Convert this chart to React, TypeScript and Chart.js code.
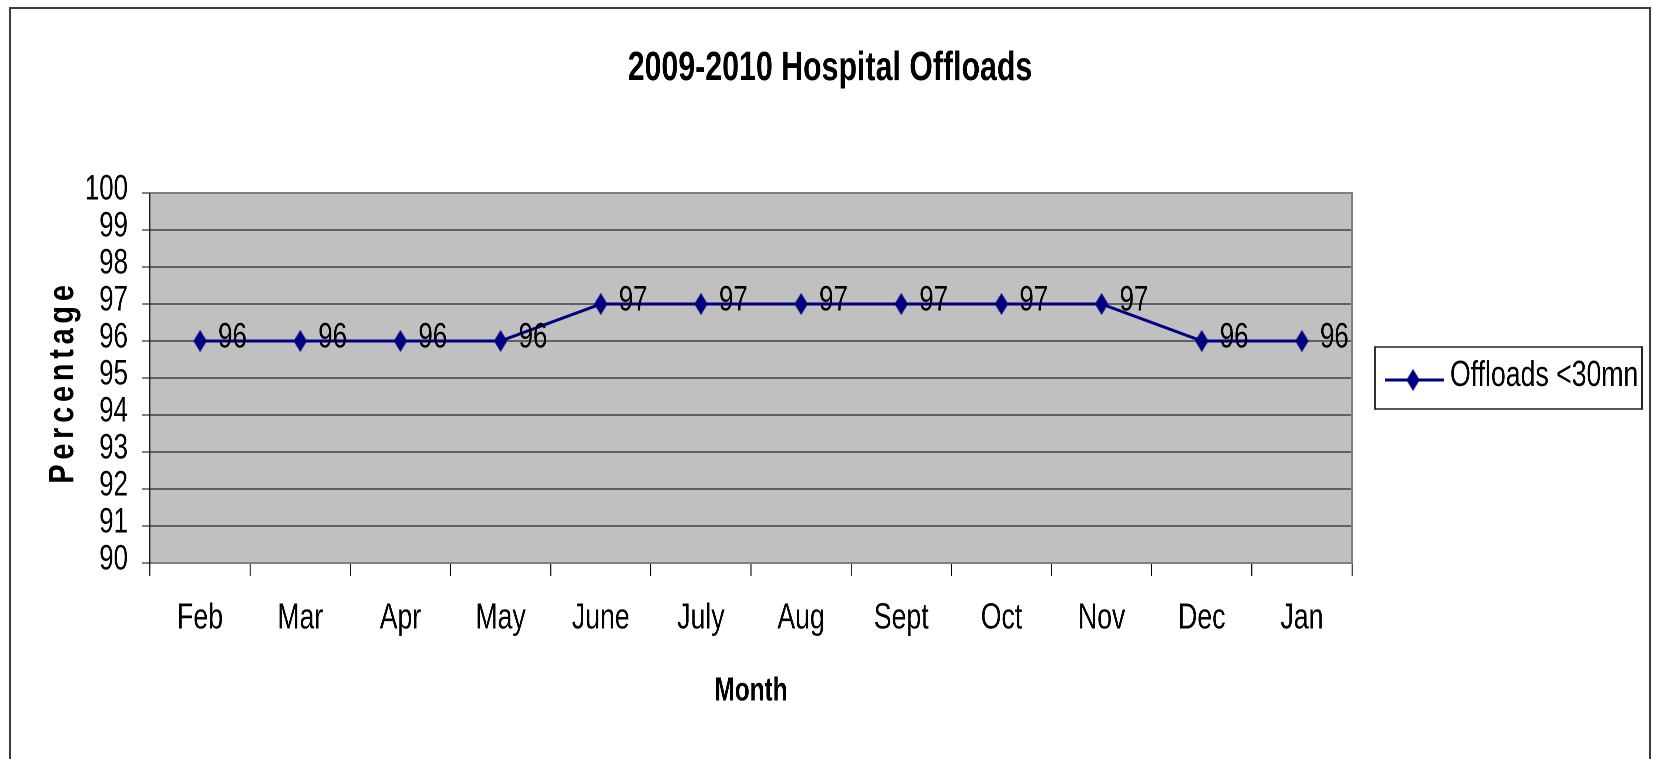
import React, { useEffect, useRef } from 'react';
import { Chart, registerables } from 'chart.js';

Chart.register(...registerables);

const TITLE = '2009-2010 Hospital Offloads';
const X_TITLE = 'Month';
const Y_TITLE = 'Percentage';
const SERIES_LABEL = 'Offloads <30mn';
const MONTHS = ['Feb', 'Mar', 'Apr', 'May', 'June', 'July', 'Aug', 'Sept', 'Oct', 'Nov', 'Dec', 'Jan'];
const OFFLOADS = [96, 96, 96, 96, 97, 97, 97, 97, 97, 97, 96, 96];
const Y_MIN = 90;
const Y_MAX = 100;
const Y_STEP = 1;

const FONT = "'Liberation Sans', Arial, sans-serif";
const NAVY = '#000080';
const PLOT_BG = '#C0C0C0';
const PLOT_EDGE = '#808080';

// the chart is drawn on a wider logical canvas and shown condensed horizontally
const SHOW_W = 1638;
const H = 750;
const LOGICAL_W = 2214;
const K = SHOW_W / LOGICAL_W;

function makeDiamond(): HTMLCanvasElement {
  const c = document.createElement('canvas');
  c.width = 18;
  c.height = 22;
  const g = c.getContext('2d')!;
  g.fillStyle = NAVY;
  g.beginPath();
  g.moveTo(9, 0);
  g.lineTo(18, 11);
  g.lineTo(9, 22);
  g.lineTo(0, 11);
  g.closePath();
  g.fill();
  return c;
}

export default function App() {
  const ref = useRef<HTMLCanvasElement | null>(null);

  useEffect(() => {
    const canvas = ref.current;
    if (!canvas) return;
    const diamond = makeDiamond();

    const plotBg = {
      id: 'plotBg',
      beforeDraw(chart: any) {
        const { ctx, chartArea: a } = chart;
        ctx.save();
        ctx.fillStyle = PLOT_BG;
        ctx.fillRect(a.left, a.top, a.right - a.left, a.bottom - a.top);
        ctx.restore();
      },
      beforeDatasetsDraw(chart: any) {
        const { ctx, chartArea: a } = chart;
        ctx.save();
        ctx.strokeStyle = PLOT_EDGE;
        ctx.lineWidth = 2;
        ctx.beginPath();
        ctx.moveTo(a.left, a.top);
        ctx.lineTo(a.right, a.top);
        ctx.stroke();
        ctx.lineWidth = 2 / K;
        ctx.beginPath();
        ctx.moveTo(a.right, a.top - 1);
        ctx.lineTo(a.right, a.bottom + 1);
        ctx.stroke();
        ctx.restore();
      },
    };

    const mainTitle = {
      id: 'mainTitle',
      afterDraw(chart: any) {
        const { ctx } = chart;
        ctx.save();
        ctx.fillStyle = '#000';
        ctx.font = `bold 41px ${FONT}`;
        ctx.textAlign = 'center';
        ctx.textBaseline = 'alphabetic';
        ctx.fillText(TITLE, chart.width / 2, 71);
        ctx.restore();
      },
    };

    const dataLabels = {
      id: 'dataLabels',
      afterDatasetsDraw(chart: any) {
        const { ctx } = chart;
        const meta = chart.getDatasetMeta(0);
        ctx.save();
        ctx.fillStyle = '#000';
        ctx.font = `35px ${FONT}`;
        ctx.textAlign = 'left';
        ctx.textBaseline = 'middle';
        meta.data.forEach((pt: any, i: number) => {
          ctx.fillText(String(OFFLOADS[i]), pt.x + 18 / K, pt.y - 3);
        });
        ctx.restore();
      },
    };

    const boxLegend = {
      id: 'boxLegend',
      afterDraw(chart: any) {
        const { ctx, chartArea: a } = chart;
        const ds = chart.data.datasets[0];
        const w = 267 / K;
        const h = 62;
        const left = a.right + 23 / K;
        const top = (a.top + a.bottom) / 2 - h / 2;
        ctx.save();
        ctx.strokeStyle = '#222';
        ctx.lineWidth = 1.6;
        ctx.beginPath();
        ctx.moveTo(left, top);
        ctx.lineTo(left + w, top);
        ctx.moveTo(left, top + h);
        ctx.lineTo(left + w, top + h);
        ctx.stroke();
        ctx.lineWidth = 1.6 / K;
        ctx.beginPath();
        ctx.moveTo(left, top - 0.8);
        ctx.lineTo(left, top + h + 0.8);
        ctx.moveTo(left + w, top - 0.8);
        ctx.lineTo(left + w, top + h + 0.8);
        ctx.stroke();
        const cy = top + 33;
        ctx.strokeStyle = NAVY;
        ctx.lineWidth = 3;
        ctx.beginPath();
        ctx.moveTo(left + 10 / K, cy);
        ctx.lineTo(left + 69 / K, cy);
        ctx.stroke();
        ctx.drawImage(diamond, left + 38 / K - diamond.width / 2, cy - diamond.height / 2);
        ctx.fillStyle = '#000';
        ctx.font = `36px ${FONT}`;
        ctx.textAlign = 'left';
        ctx.textBaseline = 'middle';
        ctx.fillText(ds.label, left + 75 / K, top + 29);
        ctx.restore();
      },
    };

    const yTitle = {
      id: 'yTitle',
      afterDraw(chart: any) {
        const { ctx, chartArea: a } = chart;
        ctx.save();
        ctx.font = `bold 36px ${FONT}`;
        (ctx as any).letterSpacing = '6px';
        ctx.fillStyle = '#000';
        ctx.textAlign = 'center';
        ctx.textBaseline = 'alphabetic';
        ctx.translate(a.left - 77 / K, (a.top + a.bottom) / 2 + 4);
        ctx.scale(1 / K, 1);
        ctx.rotate(-Math.PI / 2);
        ctx.scale(0.8, 1);
        ctx.fillText(Y_TITLE, 0, 0);
        ctx.restore();
      },
    };

    const edge = (v: number) => v === Y_MIN || v === Y_MAX;

    const chart = new Chart(canvas, {
      type: 'line',
      data: {
        labels: MONTHS,
        datasets: [
          {
            label: SERIES_LABEL,
            data: OFFLOADS,
            borderColor: NAVY,
            backgroundColor: NAVY,
            borderWidth: 3,
            pointStyle: diamond as any,
            pointRadius: 9,
            pointHoverRadius: 9,
            pointBackgroundColor: NAVY,
            pointBorderColor: NAVY,
            tension: 0,
            fill: false,
          },
        ],
      },
      options: {
        responsive: false,
        animation: false,
        devicePixelRatio: 2,
        layout: { padding: { left: 0, right: LOGICAL_W - 1341 / K, top: 184, bottom: 0 } },
        plugins: {
          legend: { display: false },
          tooltip: { enabled: false },
          title: { display: false },
        },
        scales: {
          x: {
            type: 'category',
            offset: true,
            afterFit: (s: any) => {
              s.height = H - 554;
            },
            grid: {
              offset: true,
              drawOnChartArea: false,
              drawTicks: true,
              tickLength: 13,
              color: '#000',
              lineWidth: 1 / K,
            },
            border: { display: true, color: PLOT_EDGE, width: 2 },
            ticks: {
              color: '#000',
              font: { family: FONT, size: 36 },
              padding: 21,
              maxRotation: 0,
              minRotation: 0,
              autoSkip: false,
            },
            title: {
              display: true,
              text: X_TITLE,
              color: '#000',
              font: { family: FONT, size: 33, weight: 'bold' },
              padding: { top: 10, bottom: 48 },
            },
          },
          y: {
            min: Y_MIN,
            max: Y_MAX,
            afterFit: (s: any) => {
              s.width = 139 / K;
            },
            ticks: {
              stepSize: Y_STEP,
              autoSkip: false,
              color: '#000',
              font: { family: FONT, size: 35 },
              padding: 14 / K,
              labelOffset: -3,
            },
            grid: {
              color: (c: any) => (edge(c.tick?.value) ? PLOT_EDGE : '#000'),
              lineWidth: (c: any) => (edge(c.tick?.value) ? 2 : 1),
              tickColor: '#000',
              tickWidth: 1,
              tickLength: 8 / K,
              drawTicks: true,
            },
            border: { display: true, color: '#000', width: 1 / K },
          },
        },
      },
      plugins: [plotBg, dataLabels, boxLegend, yTitle, mainTitle],
    });

    return () => chart.destroy();
  }, []);

  return (
    <div
      style={{
        position: 'fixed',
        left: 9,
        top: 7,
        width: SHOW_W,
        height: 760,
        overflow: 'hidden',
        borderLeft: '2px solid #3c3c3c',
        borderTop: '2px solid #3c3c3c',
        borderRight: '2px solid #3c3c3c',
        background: '#fff',
      }}
    >
      <canvas
        ref={ref}
        width={LOGICAL_W}
        height={H}
        style={{ display: 'block', width: SHOW_W, height: H }}
      />
    </div>
  );
}
